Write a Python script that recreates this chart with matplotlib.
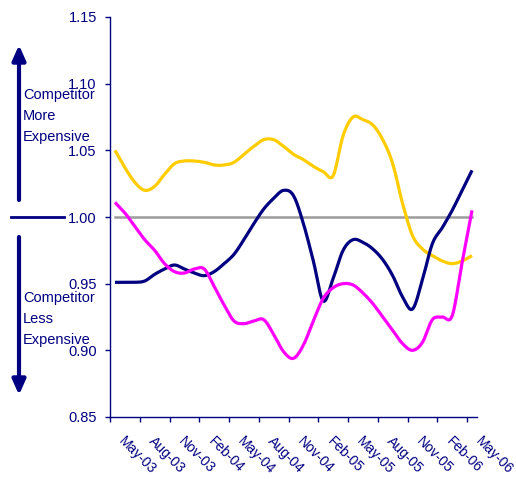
import numpy as np
import matplotlib
matplotlib.use("Agg")
import matplotlib.pyplot as plt
from matplotlib import transforms

plt.rcParams['font.family'] = ['Liberation Sans', 'DejaVu Sans']

NAVY = '#000080'

# monthly index, May-03 .. May-06
months = ['May-03', 'Aug-03', 'Nov-03', 'Feb-04', 'May-04', 'Aug-04', 'Nov-04',
          'Feb-05', 'May-05', 'Aug-05', 'Nov-05', 'Feb-06', 'May-06']

yellow = [1.050, 1.037, 1.026, 1.020, 1.023, 1.032, 1.040, 1.042, 1.042, 1.041,
          1.039, 1.039, 1.041, 1.047, 1.053, 1.058, 1.058, 1.053, 1.047, 1.043,
          1.038, 1.034, 1.031, 1.061, 1.075, 1.073, 1.069, 1.058, 1.040, 1.010,
          0.986, 0.976, 0.971, 0.967, 0.965, 0.967, 0.971]

navy = [0.951, 0.951, 0.951, 0.952, 0.957, 0.961, 0.964, 0.961, 0.958, 0.956,
        0.959, 0.965, 0.972, 0.983, 0.995, 1.006, 1.014, 1.020, 1.016, 0.995,
        0.967, 0.937, 0.954, 0.975, 0.983, 0.981, 0.976, 0.968, 0.956, 0.940,
        0.931, 0.953, 0.980, 0.992, 1.005, 1.020, 1.035]

magenta = [1.011, 1.003, 0.993, 0.983, 0.975, 0.965, 0.959, 0.958, 0.961, 0.961,
           0.948, 0.934, 0.922, 0.920, 0.922, 0.923, 0.912, 0.899, 0.894, 0.904,
           0.922, 0.939, 0.947, 0.950, 0.949, 0.943, 0.935, 0.925, 0.915, 0.905,
           0.900, 0.906, 0.923, 0.925, 0.926, 0.966, 1.005]

parity = [1.0] * 37


def smooth(y, steps=12):
    # Catmull-Rom curve through the points, like a "smoothed line" chart
    y = np.asarray(y, float)
    p = np.concatenate([[2 * y[0] - y[1]], y, [2 * y[-1] - y[-2]]])
    xs, ys = [], []
    t = np.linspace(0, 1, steps, endpoint=False)
    for i in range(len(y) - 1):
        p0, p1, p2, p3 = p[i:i + 4]
        seg = 0.5 * ((2 * p1) + (-p0 + p2) * t + (2 * p0 - 5 * p1 + 4 * p2 - p3) * t ** 2
                     + (-p0 + 3 * p1 - 3 * p2 + p3) * t ** 3)
        xs.extend(i + t)
        ys.extend(seg)
    xs.append(len(y) - 1)
    ys.append(y[-1])
    return np.array(xs), np.array(ys)


fig = plt.figure(figsize=(5.16, 4.79), dpi=100)
ax = fig.add_axes([110 / 516, 1 - 417 / 479, 367 / 516, 400 / 479])

x = np.arange(len(parity))
ax.plot(x, parity, color='#9c9c9c', lw=1.8, zorder=1)
for series, col in [(yellow, '#ffcc00'), (navy, NAVY), (magenta, '#ff00ff')]:
    sx, sy = smooth(series)
    ax.plot(sx, sy, color=col, lw=2.3, solid_capstyle='butt', zorder=2)

ax.set_xlim(-0.5, 36.5)
ax.set_ylim(0.85, 1.15)
ax.set_yticks(np.arange(0.85, 1.151, 0.05))
ax.set_yticklabels(['%.2f' % v for v in np.arange(0.85, 1.151, 0.05)])
ax.set_xticks(np.arange(-0.5, 36, 3))
ax.set_xticklabels([])

for s in ['top', 'right']:
    ax.spines[s].set_visible(False)
for s in ['left', 'bottom']:
    ax.spines[s].set_color(NAVY)
    ax.spines[s].set_linewidth(1)
ax.tick_params(axis='both', direction='out', length=3.5, width=1, color=NAVY,
               labelcolor=NAVY, labelsize=10.5)
ax.tick_params(axis='y', pad=6)

# date labels under the axis, rotated down to the right
base = transforms.blended_transform_factory(ax.transData, ax.transAxes)
off = transforms.ScaledTranslation(11 / 100, -17 / 100, fig.dpi_scale_trans)
for i, lab in enumerate(months):
    ax.text(i * 3, 0, lab, transform=base + off, rotation=-45,
            rotation_mode='anchor', ha='left', va='top', color=NAVY,
            fontsize=10)

# side legend: arrows and parity marker in figure pixels
H = 479
arrow = dict(arrowstyle='-|>,head_length=0.9,head_width=0.4', color=NAVY, lw=3,
             shrinkA=0, shrinkB=0)
ax.annotate('', xy=(19, H - 45), xytext=(19, H - 200), xycoords='figure pixels',
            textcoords='figure pixels', arrowprops=arrow, annotation_clip=False)
ax.annotate('', xy=(19, H - 395), xytext=(19, H - 237), xycoords='figure pixels',
            textcoords='figure pixels', arrowprops=arrow, annotation_clip=False)
fig.add_artist(plt.Line2D([11 / 516, 64 / 516], [1 - 216.7 / H] * 2,
                          color=NAVY, lw=2))

for y0, words in [(95, ['Competitor', 'More', 'Expensive']),
                  (298, ['Competitor', 'Less', 'Expensive'])]:
    for k, w in enumerate(words):
        fig.text(23 / 516, 1 - (y0 + 21 * k) / H, w, color=NAVY, fontsize=10.5,
                 ha='left', va='center')

fig.savefig('out.png', dpi=100)
